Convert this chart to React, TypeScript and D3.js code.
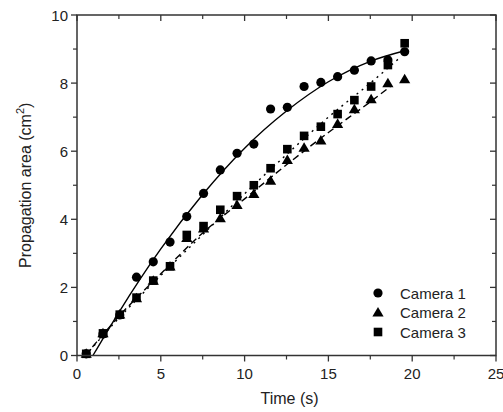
import React from "react";
import * as d3 from "d3";

// measurement times (s)
const times = [0.55, 1.55, 2.55, 3.55, 4.55, 5.55, 6.55, 7.55, 8.55, 9.55, 10.55, 11.55, 12.55, 13.55, 14.55, 15.55, 16.55, 17.55, 18.55, 19.55];

// propagation area (cm^2)
const camera1 = [0.05, 0.63, 1.19, 2.3, 2.75, 3.33, 4.08, 4.76, 5.45, 5.94, 6.21, 7.24, 7.29, 7.9, 8.02, 8.19, 8.38, 8.65, 8.68, 8.92];
const camera2 = [0.05, 0.65, 1.2, 1.68, 2.19, 2.61, 3.45, 3.73, 4.03, 4.42, 4.74, 5.13, 5.74, 6.1, 6.31, 6.8, 7.23, 7.52, 7.99, 8.11];
const camera3 = [0.05, 0.65, 1.2, 1.7, 2.2, 2.62, 3.54, 3.8, 4.28, 4.68, 5.0, 5.5, 6.06, 6.45, 6.72, 7.09, 7.5, 7.9, 8.53, 9.17];

// fit curves: [time, area]
const fit1: [number, number][] = [[0.95, 0], [2.5, 1.27], [5, 3.13], [7.5, 4.73], [10, 6.09], [12.5, 7.18], [15, 8.04], [17.5, 8.64], [19.55, 8.95]];
const fit2: [number, number][] = [[0.5, 0.0], [2.5, 1.15], [5, 2.4], [7.5, 3.6], [10, 4.6], [12.5, 5.6], [15, 6.55], [17.5, 7.45], [18.7, 7.9]];
const fit3: [number, number][] = [[0.5, 0.0], [2.5, 1.1], [5, 2.35], [7.5, 3.55], [10, 4.75], [12.5, 5.9], [15, 7.0], [17.5, 8.0], [19.2, 8.72]];

const legendLabels = ["Camera 1", "Camera 2", "Camera 3"];
const xTicks = [0, 5, 10, 15, 20, 25];
const xMinor = [2.5, 7.5, 12.5, 17.5, 22.5];
const yTicks = [0, 2, 4, 6, 8, 10];
const yMinor = [1, 3, 5, 7, 9];

const W = 503;
const H = 412;
const left = 77, right = 496, top = 15, bottom = 355.5;
const axisColor = "#333";
const font = "'Liberation Sans', Arial, sans-serif";

function Marker({ kind, x, y }: { kind: number; x: number; y: number }) {
  if (kind === 0) return <circle cx={x} cy={y} r={4.6} fill="#000" />;
  if (kind === 1) {
    const s = 5.6;
    return <path d={`M${x},${y - s}L${x + s},${y + s * 0.7}L${x - s},${y + s * 0.7}Z`} fill="#000" />;
  }
  return <rect x={x - 4.3} y={y - 4.3} width={8.6} height={8.6} fill="#000" />;
}

export default function App() {
  const x = d3.scaleLinear().domain([0, 25]).range([left, right]);
  const y = d3.scaleLinear().domain([0, 10]).range([bottom, top]);

  const line = d3
    .line<[number, number]>()
    .x((d) => x(d[0]))
    .y((d) => y(d[1]))
    .curve(d3.curveMonotoneX);

  const series = [camera1, camera2, camera3];

  return (
    <svg width={W} height={H} style={{ position: "absolute", left: 0, top: 0, background: "#fff" }} fontFamily={font}>
      {/* fit lines */}
      <path d={line(fit1) || ""} fill="none" stroke="#000" strokeWidth={1.4} />
      <path d={line(fit2) || ""} fill="none" stroke="#000" strokeWidth={1.4} strokeDasharray="7,4" />
      <path d={line(fit3) || ""} fill="none" stroke="#000" strokeWidth={1.4} strokeDasharray="2,4.5" />

      {/* data points */}
      {series.map((vals, k) =>
        vals.map((v, i) => <Marker key={`${k}-${i}`} kind={k} x={x(times[i])} y={y(v)} />)
      )}

      {/* frame */}
      <rect x={left} y={top} width={right - left} height={bottom - top} fill="none" stroke={axisColor} strokeWidth={1.5} />

      {/* x ticks: outward on bottom, inward on top */}
      {xTicks.map((t) => (
        <g key={`xt${t}`}>
          <line x1={x(t)} x2={x(t)} y1={bottom} y2={bottom + 6} stroke={axisColor} strokeWidth={1.3} />
          <line x1={x(t)} x2={x(t)} y1={top} y2={top + 6} stroke={axisColor} strokeWidth={1.3} />
          <text x={x(t)} y={bottom + 23} textAnchor="middle" fontSize={15} fill="#222">{t}</text>
        </g>
      ))}
      {xMinor.map((t) => (
        <g key={`xm${t}`}>
          <line x1={x(t)} x2={x(t)} y1={bottom} y2={bottom + 4} stroke={axisColor} strokeWidth={1.2} />
          <line x1={x(t)} x2={x(t)} y1={top} y2={top + 4} stroke={axisColor} strokeWidth={1.2} />
        </g>
      ))}

      {/* y ticks: outward on left, inward on right */}
      {yTicks.map((t) => (
        <g key={`yt${t}`}>
          <line x1={left - 6} x2={left} y1={y(t)} y2={y(t)} stroke={axisColor} strokeWidth={1.3} />
          <line x1={right - 6} x2={right} y1={y(t)} y2={y(t)} stroke={axisColor} strokeWidth={1.3} />
          <text x={left - 9} y={y(t) + 5.5} textAnchor="end" fontSize={15} fill="#222">{t}</text>
        </g>
      ))}
      {yMinor.map((t) => (
        <g key={`ym${t}`}>
          <line x1={left - 4} x2={left} y1={y(t)} y2={y(t)} stroke={axisColor} strokeWidth={1.2} />
          <line x1={right - 4} x2={right} y1={y(t)} y2={y(t)} stroke={axisColor} strokeWidth={1.2} />
        </g>
      ))}

      {/* axis titles */}
      <text x={(left + right) / 2 + 3} y={404} textAnchor="middle" fontSize={16} fill="#222">Time (s)</text>
      <text transform={`translate(31,${(top + bottom) / 2}) rotate(-90)`} textAnchor="middle" fontSize={16} fill="#222">
        Propagation area (cm<tspan fontSize={11} dy={-7}>2</tspan><tspan dy={7}>)</tspan>
      </text>

      {/* legend */}
      {legendLabels.map((lab, k) => (
        <g key={lab}>
          <Marker kind={k} x={378} y={293 + k * 19.5} />
          <text x={400} y={293 + k * 19.5 + 5.5} fontSize={15} fill="#222">{lab}</text>
        </g>
      ))}
    </svg>
  );
}
